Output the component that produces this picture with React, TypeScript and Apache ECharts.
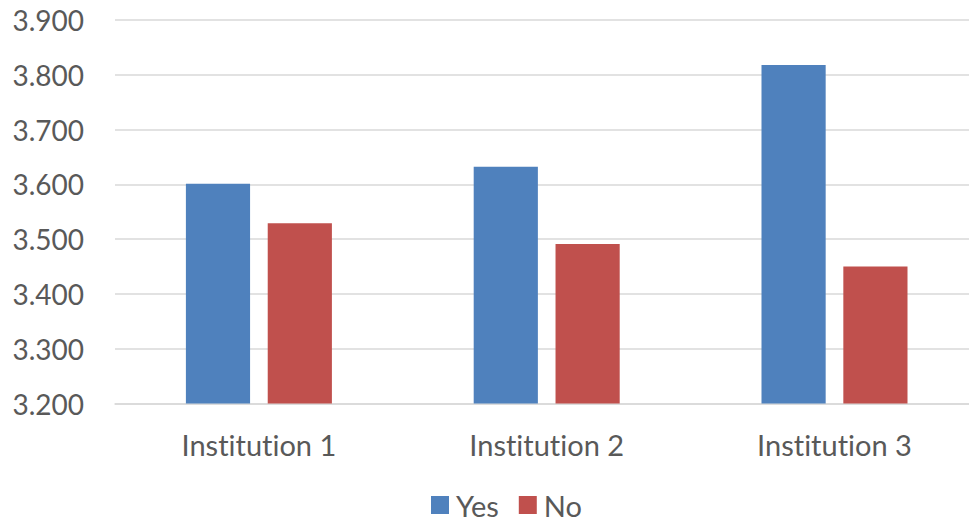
import React, { useEffect, useRef } from "react";
import * as echarts from "echarts";

const categories = ["Institution 1", "Institution 2", "Institution 3"];
const yesValues = [3.601, 3.632, 3.818];
const noValues = [3.529, 3.491, 3.45];
const seriesNames = ["Yes", "No"];

const FONT = "Lato, 'Open Sans', sans-serif";
const TEXT = "#595959";

export default function App() {
  const ref = useRef<HTMLDivElement>(null);

  useEffect(() => {
    if (!ref.current) return;
    const chart = echarts.init(ref.current, null, { renderer: "svg" });
    chart.setOption({
      animation: false,
      backgroundColor: "#ffffff",
      grid: {
        left: 115,
        top: 20,
        width: 863.4,
        height: 383.5,
        containLabel: false,
        outerBoundsMode: "none",
      },
      legend: {
        data: seriesNames,
        top: 490,
        left: 431,
        padding: 0,
        itemWidth: 18,
        itemHeight: 18,
        itemGap: 20,
        icon: "rect",
        textStyle: {
          fontFamily: FONT,
          fontSize: 29,
          lineHeight: 30,
          color: TEXT,
          padding: [0, 0, 0, 2],
        },
      },
      xAxis: {
        type: "category",
        data: categories,
        axisLine: { show: true, lineStyle: { color: "#d9d9d9", width: 1.5 } },
        axisTick: { show: false },
        axisLabel: { fontFamily: FONT, fontSize: 29, color: TEXT, margin: 26 },
      },
      yAxis: {
        type: "value",
        min: 3.2,
        max: 3.9,
        interval: 0.1,
        axisLine: { show: false },
        axisTick: { show: false },
        splitLine: { lineStyle: { color: "#d9d9d9", width: 1.5 } },
        axisLabel: {
          fontFamily: FONT,
          fontSize: 28,
          color: TEXT,
          margin: 31,
          formatter: (v: number) => v.toFixed(3),
        },
      },
      series: [
        {
          name: seriesNames[0],
          type: "bar",
          data: yesValues,
          barWidth: "22.3%",
          barGap: "27.5%",
          itemStyle: { color: "#4f81bd" },
        },
        {
          name: seriesNames[1],
          type: "bar",
          data: noValues,
          barWidth: "22.3%",
          barGap: "27.5%",
          itemStyle: { color: "#c0504d" },
        },
      ],
    });
    return () => chart.dispose();
  }, []);

  return (
    <>
      <style>{`#root text { font-variant-ligatures: none; font-feature-settings: "liga" 0, "clig" 0; }`}</style>
      <div
        style={{
          position: "absolute",
          left: 0,
          top: 0,
          width: 969,
          height: 521,
          overflow: "hidden",
          background: "#ffffff",
        }}
      >
        <div ref={ref} style={{ width: 980, height: 521 }} />
      </div>
    </>
  );
}
